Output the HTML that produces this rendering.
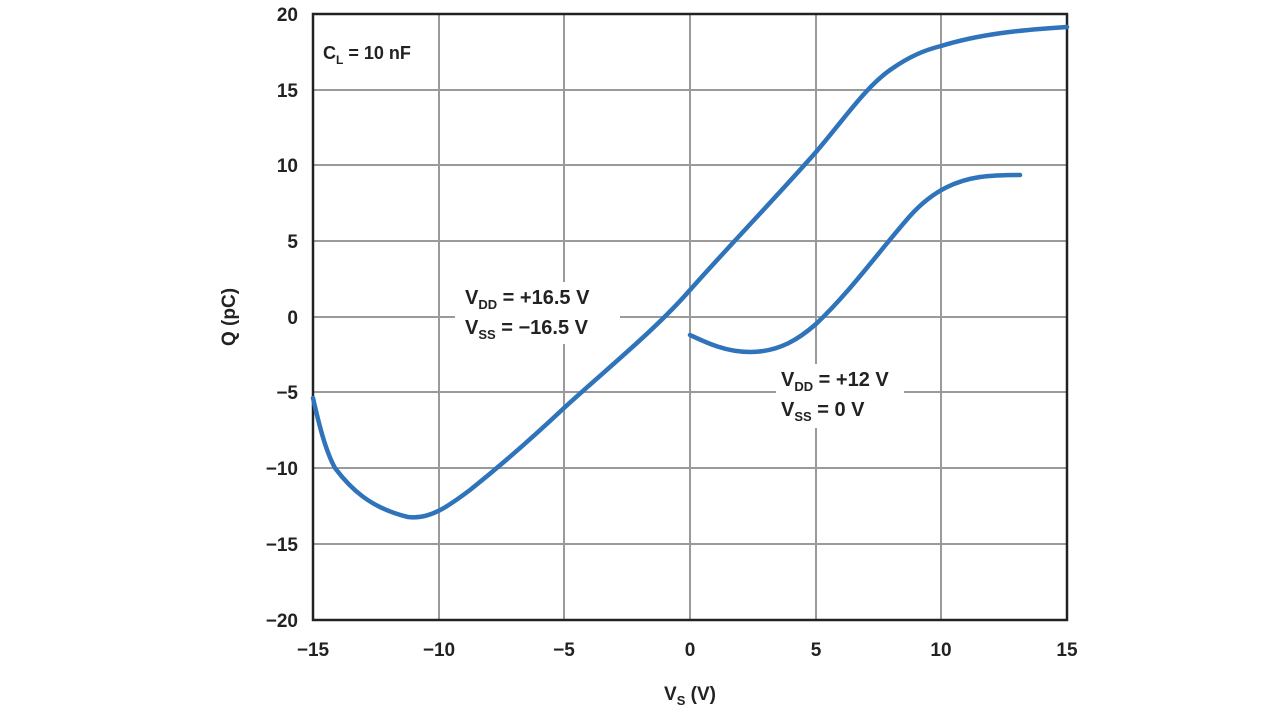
<!DOCTYPE html>
<html><head><style>
body{margin:0;background:#fff;}
svg text{font-family:"Liberation Sans",sans-serif;font-weight:bold;fill:#222;}
</style></head><body>
<svg width="1280" height="720" viewBox="0 0 1280 720" xmlns="http://www.w3.org/2000/svg">
<g stroke="#9a9a9a" stroke-width="2">
<line x1="439" y1="14" x2="439" y2="620"/><line x1="564" y1="14" x2="564" y2="620"/>
<line x1="690" y1="14" x2="690" y2="620"/><line x1="816" y1="14" x2="816" y2="620"/>
<line x1="941" y1="14" x2="941" y2="620"/>
<line x1="313" y1="90" x2="1067" y2="90"/><line x1="313" y1="165" x2="1067" y2="165"/>
<line x1="313" y1="241" x2="1067" y2="241"/><line x1="313" y1="317" x2="1067" y2="317"/>
<line x1="313" y1="392" x2="1067" y2="392"/><line x1="313" y1="468" x2="1067" y2="468"/>
<line x1="313" y1="544" x2="1067" y2="544"/>
</g>
<rect x="313" y="14" width="754" height="606" fill="none" stroke="#222" stroke-width="2.5"/>
<rect x="455" y="282" width="165" height="62" fill="#fff"/>
<rect x="776" y="364" width="128" height="64" fill="#fff"/>
<g fill="none" stroke="#2f73ba" stroke-width="4.5" stroke-linecap="round" stroke-linejoin="round">
<path d="M313,398 C318,420 325,450 335,468 C350,488 370,508 408,517 C430,520 450,505 470,490 C500,466 530,440 564,408 C610,366 655,330 690,290 C730,245 780,193 816,152 C845,118 865,88 890,70 C910,56 925,50 941,46 C980,34 1020,30 1067,27"/>
<path d="M690,335 C705,342 725,352 750,352 C780,352 800,338 816,324 C850,292 880,250 910,216 C935,188 960,180 980,177 C995,175 1010,175 1020,175"/>
</g>
<g font-size="19" text-anchor="end">
<text x="298" y="21">20</text><text x="298" y="97">15</text><text x="298" y="172">10</text>
<text x="298" y="248">5</text><text x="298" y="324">0</text><text x="298" y="399">−5</text>
<text x="298" y="475">−10</text><text x="298" y="551">−15</text><text x="298" y="627">−20</text>
</g>
<g font-size="19" text-anchor="middle">
<text x="313" y="656">−15</text><text x="439" y="656">−10</text><text x="564" y="656">−5</text>
<text x="690" y="656">0</text><text x="816" y="656">5</text><text x="941" y="656">10</text><text x="1067" y="656">15</text>
</g>
<text x="690" y="700" font-size="19" text-anchor="middle">V<tspan font-size="13" dy="5">S</tspan><tspan dy="-5"> (V)</tspan></text>
<text transform="translate(235,317) rotate(-90)" font-size="19" text-anchor="middle">Q (pC)</text>
<text x="323" y="59" font-size="18">C<tspan font-size="12" dy="5">L</tspan><tspan dy="-5"> = 10 nF</tspan></text>
<g font-size="20">
<text x="465" y="304">V<tspan font-size="13" dy="5">DD</tspan><tspan dy="-5"> = +16.5 V</tspan></text>
<text x="465" y="334">V<tspan font-size="13" dy="5">SS</tspan><tspan dy="-5"> = −16.5 V</tspan></text>
<text x="781" y="386">V<tspan font-size="13" dy="5">DD</tspan><tspan dy="-5"> = +12 V</tspan></text>
<text x="781" y="416">V<tspan font-size="13" dy="5">SS</tspan><tspan dy="-5"> = 0 V</tspan></text>
</g>
</svg>
</body></html>
